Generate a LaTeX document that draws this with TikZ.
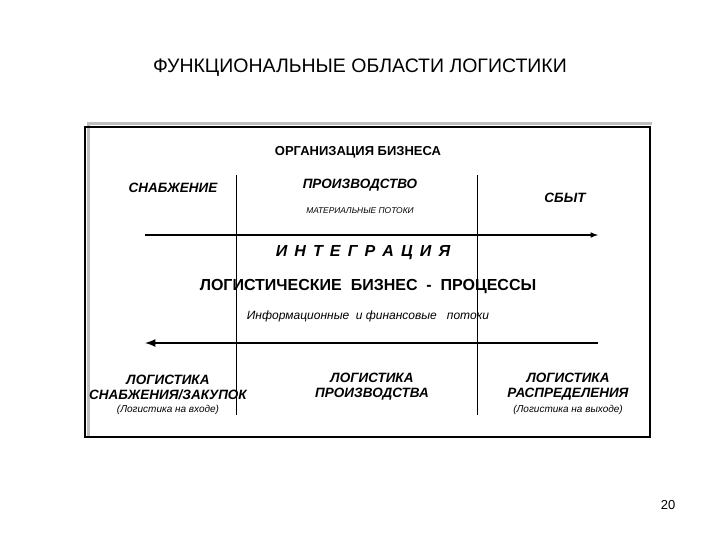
\documentclass[tikz,border=0pt]{standalone}
\usepackage{fontspec}
\setmainfont{Liberation Sans}
\begin{document}
\begin{tikzpicture}[x=1pt,y=-1pt,
  lbl/.style={font=\bfseries\itshape\fontsize{13.5}{15}\selectfont,align=center,inner sep=0pt},
  small/.style={font=\itshape\fontsize{10}{11}\selectfont,inner sep=0pt},
  vline/.style={line width=0.8pt}]
\useasboundingbox (0,0) rectangle (720,540);
\fill[white] (0,0) rectangle (720,540);
\node[font=\fontsize{19.5}{22}\selectfont,inner sep=0pt] (title) at (360,68) {ФУНКЦИОНАЛЬНЫЕ ОБЛАСТИ ЛОГИСТИКИ};
\draw[gray!50,line width=3pt] (88,436) -- (88,124) -- (652,124);
\draw[line width=1.3pt] (85,127) rectangle (650,437);
\node[font=\bfseries\fontsize{13}{15}\selectfont,inner sep=0pt] (org) at (358,152) {ОРГАНИЗАЦИЯ БИЗНЕСА};
\coordinate (v1t) at (236,175); \coordinate (v1b) at (236,415);
\coordinate (v2t) at (477,175); \coordinate (v2b) at (477,415);
\draw[vline] (v1t) -- (v1b);
\draw[vline] (v2t) -- (v2b);
\node[lbl] (snab) at (173,188) {СНАБЖЕНИЕ};
\node[lbl] (proiz) at (360,185) {ПРОИЗВОДСТВО};
\node[lbl] (sbyt) at (565,198) {СБЫТ};
\node[font=\itshape\fontsize{8.4}{10}\selectfont,inner sep=0pt] (mat) at (360,211) {МАТЕРИАЛЬНЫЕ ПОТОКИ};
\coordinate (a1s) at (145,235); \coordinate (a1e) at (598,235);
\draw[line width=1.5pt,-latex] (a1s) -- (a1e);
\node[font=\bfseries\itshape\fontsize{16}{18}\selectfont,inner sep=0pt] (integ) at (363,253) {И\ \,Н\ \,Т\ \,Е\ \,Г\ \,Р\ \,А\ \,Ц\ \,И\ \,Я};
\node[font=\bfseries\fontsize{16}{18}\selectfont,inner sep=0pt] (proc) at (368,287) {ЛОГИСТИЧЕСКИЕ\ \ БИЗНЕС\ \ -\ \ ПРОЦЕССЫ};
\node[font=\itshape\fontsize{12}{14}\selectfont,inner sep=0pt] (info) at (368,316) {Информационные\ \ и финансовые\ \ \ потоки};
\coordinate (a2s) at (598,343); \coordinate (a2e) at (145,343);
\draw[line width=2.5pt,-latex] (a2s) -- (a2e);
\node[lbl] (l1) at (168,387) {ЛОГИСТИКА\\СНАБЖЕНИЯ/ЗАКУПОК};
\node[lbl] (l2) at (372,387) {ЛОГИСТИКА\\ПРОИЗВОДСТВА};
\node[lbl] (l3) at (568,387) {ЛОГИСТИКА\\РАСПРЕДЕЛЕНИЯ};
\node[small] (in) at (168,410) {(Логистика на входе)};
\node[small] (out) at (568,410) {(Логистика на выходе)};
\node[font=\fontsize{13}{15}\selectfont,inner sep=0pt] (pg) at (668,505) {20};
\end{tikzpicture}
\end{document}
